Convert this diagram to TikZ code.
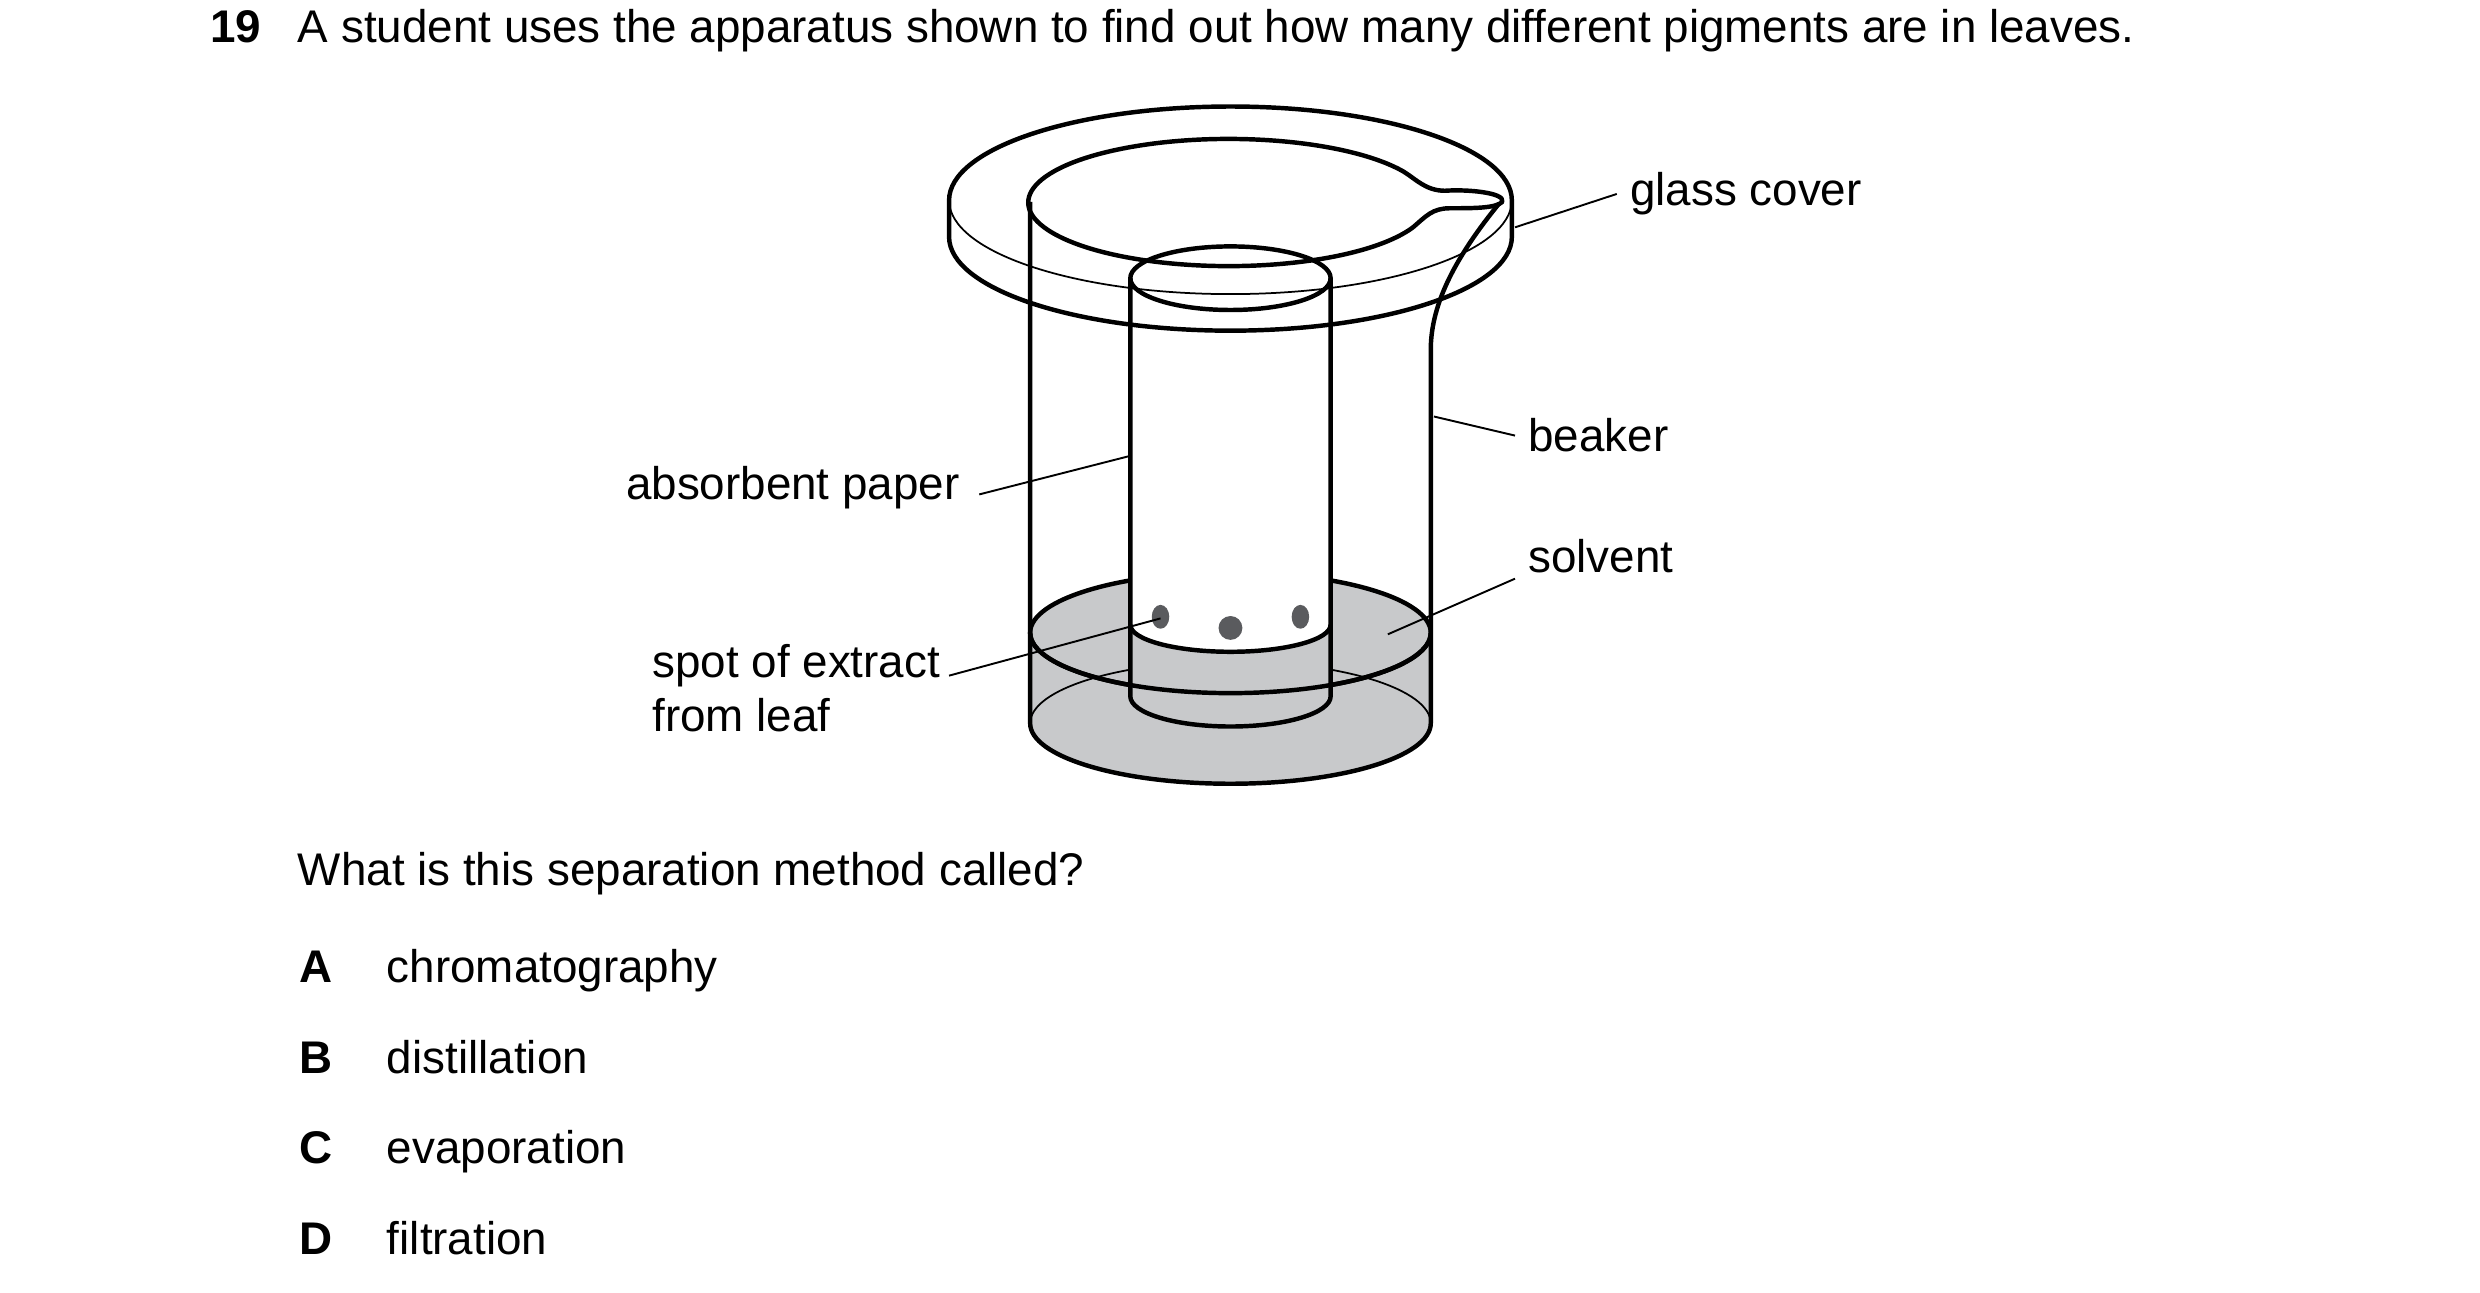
\documentclass[tikz,border=0pt]{standalone}
\usepackage{fontspec}
\setmainfont{Liberation Sans}
\begin{document}
\begin{tikzpicture}[x=0.5pt,y=0.5pt,
  thk/.style={line width=1.4pt,line join=round},
  thn/.style={line width=0.55pt},
  lead/.style={line width=0.6pt},
  lbl/.style={inner sep=0pt,font=\fontsize{14.4}{17}\selectfont},
  liquid/.style={fill=solv}]
\definecolor{solv}{HTML}{C8C9CB}
\definecolor{spotc}{HTML}{5A5B5E}
\useasboundingbox (0,0) rectangle (1560,-813);
% text
\node[lbl,anchor=base west,font=\fontsize{14.4}{17}\selectfont\bfseries] (num) at (132,-27) {19};
\node[lbl,anchor=base west] (q) at (187,-27) {A student uses the apparatus shown to find out how many different pigments are in leaves.};
\node[lbl,anchor=base west] (q2) at (187,-557) {What is this separation method called?};
\foreach \l/\t/\y in {A/chromatography/618,B/distillation/675,C/evaporation/732,D/filtration/789}{
  \node[lbl,anchor=base west,font=\fontsize{14.4}{17}\selectfont\bfseries] (l\l) at (188,-\y) {\l};
  \node[lbl,anchor=base west] (t\l) at (243,-\y) {\t};
}
\begin{scope}[xshift=-1.5pt]
% solvent
\path[liquid] (651,-398) -- (651,-455) arc[start angle=180,end angle=360,x radius=126,y radius=38] -- (903,-398) arc[start angle=0,end angle=180,x radius=126,y radius=38] -- cycle;
\draw[thn] (903,-455) arc[start angle=0,end angle=180,x radius=126,y radius=39];
\draw[thk] (777,-398) ellipse[x radius=126,y radius=38];
% paper
\path[liquid] (714,-393) -- (714,-438) arc[start angle=180,end angle=360,x radius=63,y radius=19] -- (840,-393) -- cycle;
\path[fill=white] (714,-175) -- (714,-393) arc[start angle=180,end angle=360,x radius=63,y radius=17] -- (840,-175) -- cycle;
\draw[thk] (714,-175) -- (714,-438) arc[start angle=180,end angle=360,x radius=63,y radius=19] -- (840,-175);
\draw[thk] (777,-175) ellipse[x radius=63,y radius=20];
\draw[thk] (714,-393) arc[start angle=180,end angle=360,x radius=63,y radius=17];
\draw[thk] (651,-398) arc[start angle=180,end angle=360,x radius=126,y radius=38];
\fill[spotc] (733,-388) ellipse[x radius=5.5,y radius=7.5];
\fill[spotc] (777,-395) ellipse[x radius=7.5,y radius=7.5];
\fill[spotc] (821,-388) ellipse[x radius=5.5,y radius=7.5];
% beaker
\draw[thk] (651,-127) -- (651,-455) arc[start angle=180,end angle=360,x radius=126,y radius=38] -- (903,-220) .. controls (903,-190) and (920,-160) .. (946,-128);
\draw[thk] (886,-108) arc[start angle=29,end angle=337,x radius=126,y radius=40]
  .. controls (900,-136) and (904,-131) .. (915,-131)
  .. controls (930,-131) and (944,-131) .. (948,-127)
  .. controls (950,-121) and (925,-119) .. (912,-120)
  .. controls (900,-120) and (894,-113) .. (886,-108);
% cover
\draw[thk] (600,-126) arc[start angle=180,end angle=0,x radius=177,y radius=59] -- (954,-149) arc[start angle=0,end angle=-180,x radius=177,y radius=59] -- cycle;
\draw[thn] (600,-126) arc[start angle=180,end angle=360,x radius=177,y radius=59];
\coordinate (gcp) at (956,-143);
\coordinate (bkp) at (905,-262);
\coordinate (app) at (713,-287);
\coordinate (svp) at (876,-399);
\coordinate (spp) at (733,-389);
\end{scope}
% labels
\node[lbl,anchor=west] (gc) at (1025,-122) {glass cover};
\draw[lead] (gcp) -- ([xshift=-4]gc.west);
\node[lbl,anchor=west] (bk) at (961,-274) {beaker};
\draw[lead] (bkp) -- ([xshift=-4]bk.west);
\node[lbl,anchor=east] (ap) at (604,-307) {absorbent paper};
\draw[lead] (app) -- ([xshift=6,yshift=-2]ap.east);
\node[lbl,anchor=west] (sv) at (961,-350) {solvent};
\draw[lead] (svp) -- ([xshift=-4,yshift=-7]sv.west);
\node[lbl,anchor=north west,align=left,font=\fontsize{14.4}{17}\selectfont] (sp) at (410,-405) {spot of extract\\from leaf};
\draw[lead] (spp) -- (597,-425);
\end{tikzpicture}
\end{document}
